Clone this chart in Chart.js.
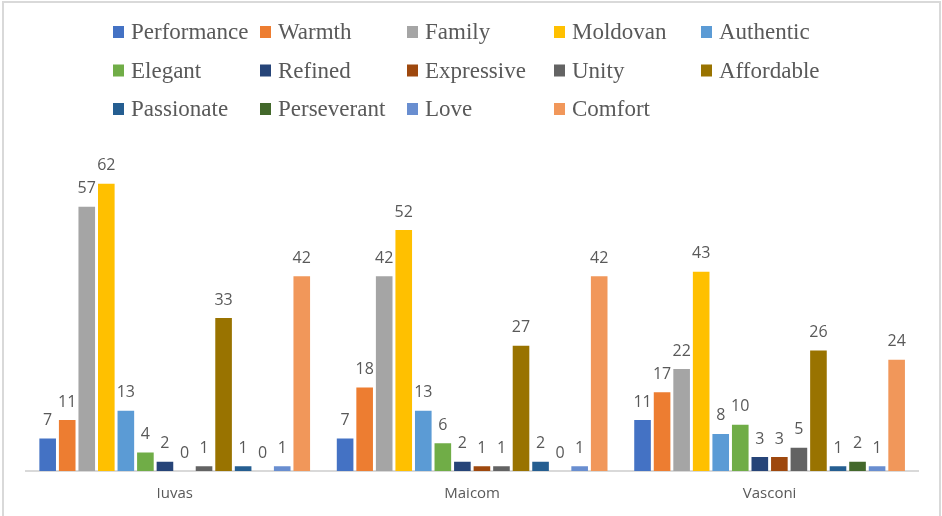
<!DOCTYPE html>
<html>
<head>
<meta charset="utf-8">
<script src="https://cdn.jsdelivr.net/npm/chart.js@4.4.1/dist/chart.umd.min.js"></script>
<style>
  html, body { margin: 0; padding: 0; background: #fff; }
  canvas { display: block; }
</style>
</head>
<body>
<canvas id="chart" width="942" height="516"></canvas>
<script>
// categories along the x axis
const categories = ["Iuvas", "Maicom", "Vasconi"];

// series (legend order)
const seriesNames = [
  "Performance", "Warmth", "Family", "Moldovan", "Authentic",
  "Elegant", "Refined", "Expressive", "Unity", "Affordable",
  "Passionate", "Perseverant", "Love", "Comfort"
];
const seriesColors = [
  "#4472C4", "#ED7D31", "#A5A5A5", "#FFC000", "#5B9BD5",
  "#70AD47", "#264478", "#9E480E", "#636363", "#997300",
  "#255E91", "#43682B", "#698ED0", "#F1975A"
];

// values per category, in series order
const iuvasValues   = [7, 11, 57, 62, 13, 4, 2, 0, 1, 33, 1, 0, 1, 42];
const maicomValues  = [7, 18, 42, 52, 13, 6, 2, 1, 1, 27, 2, 0, 1, 42];
const vasconiValues = [11, 17, 22, 43, 8, 10, 3, 3, 5, 26, 1, 2, 1, 24];

const byCategory = [iuvasValues, maicomValues, vasconiValues];

const datasets = seriesNames.map((name, i) => ({
  label: name,
  data: byCategory.map((vals) => vals[i]),
  backgroundColor: seriesColors[i],
  borderWidth: 0,
  barPercentage: 0.85,
  categoryPercentage: 0.92,
}));

// outer frame of the picture
const framePlugin = {
  id: "frame",
  beforeDraw(chart) {
    const ctx = chart.ctx;
    ctx.save();
    ctx.fillStyle = "#ffffff";
    ctx.fillRect(0, 0, chart.width, chart.height);
    ctx.strokeStyle = "#d9d9d9";
    ctx.lineWidth = 2;
    ctx.strokeRect(3, 2, 937, 530);
    ctx.restore();
  },
};

// value labels above each bar
const valueLabels = {
  id: "valueLabels",
  afterDatasetsDraw(chart) {
    const ctx = chart.ctx;
    ctx.save();
    ctx.font = "16px 'Open Sans'";
    ctx.fillStyle = "#595959";
    ctx.textAlign = "center";
    ctx.textBaseline = "middle";
    chart.data.datasets.forEach((ds, i) => {
      const meta = chart.getDatasetMeta(i);
      meta.data.forEach((bar, j) => {
        ctx.fillText(String(ds.data[j]), bar.x, bar.y - 18);
      });
    });
    ctx.restore();
  },
};

// legend laid out in fixed columns like the original
const gridLegend = {
  id: "gridLegend",
  afterDraw(chart) {
    const ctx = chart.ctx;
    ctx.save();
    ctx.font = "23px 'Liberation Serif'";
    ctx.textBaseline = "alphabetic";
    chart.data.datasets.forEach((ds, i) => {
      const col = i % 5;
      const row = Math.floor(i / 5);
      const x = 113 + col * 147;
      const base = 39 + row * 38.5;
      ctx.fillStyle = ds.backgroundColor;
      ctx.fillRect(x, base - 13, 11, 12);
      ctx.fillStyle = "#595959";
      ctx.fillText(ds.label, x + 18, base);
    });
    ctx.restore();
  },
};

new Chart(document.getElementById("chart"), {
  type: "bar",
  data: { labels: categories, datasets: datasets },
  options: {
    responsive: false,
    animation: false,
    devicePixelRatio: 1,
    layout: { padding: { top: 146.6, left: 26, right: 23.7, bottom: 0 } },
    plugins: {
      legend: { display: false },
      tooltip: { enabled: false },
    },
    scales: {
      x: {
        grid: { display: false, drawTicks: false },
        border: { display: true, color: "#d9d9d9", width: 2 },
        ticks: {
          color: "#595959",
          font: { family: "'Open Sans'", size: 15 },
          padding: 14,
        },
        afterFit(scale) {
          scale.height = 45;
        },
      },
      y: { display: false, min: 0, max: 70 },
    },
  },
  plugins: [framePlugin, valueLabels, gridLegend],
});
</script>
</body>
</html>
